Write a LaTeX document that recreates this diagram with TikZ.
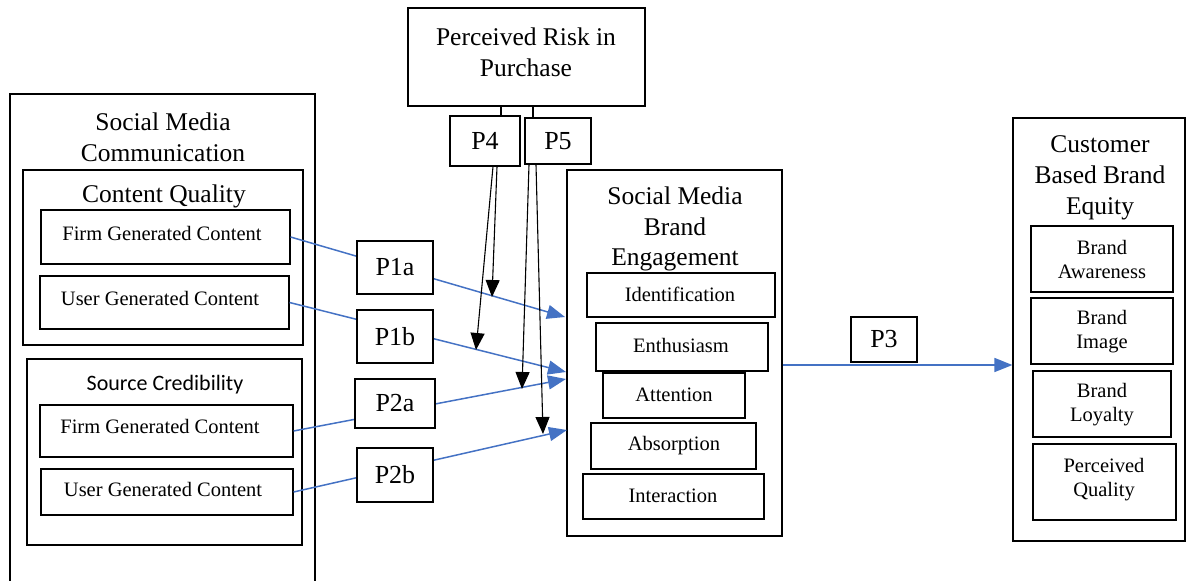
\documentclass[tikz,border=0pt]{standalone}
\usepackage{fontspec}
\setmainfont{Liberation Serif}
\newfontfamily\calibrifont{Carlito}
\usetikzlibrary{arrows.meta,fit}
\definecolor{lineblue}{HTML}{4472C4}
\tikzset{
  frame/.style={draw, line width=1.2pt, inner sep=0pt, fill=white},
  bigtxt/.style={font=\fontsize{25.5}{31}\selectfont, align=center, inner sep=0pt},
  smalltxt/.style={font=\fontsize{20.5}{24}\selectfont, align=center, inner sep=0pt},
  sanstxt/.style={font=\calibrifont\fontsize{22}{26}\selectfont, inner sep=0pt},
  ptxt/.style={font=\fontsize{26}{30}\selectfont, inner sep=0pt},
  bluearrow/.style={draw=lineblue, line width=1.5pt, -{Triangle[length=18pt,width=14pt]}},
  blackarrow/.style={draw=black, line width=1.1pt, -{Triangle[length=17pt,width=14pt]}},
  stub/.style={draw=black, line width=1.6pt},
}
\begin{document}
\begin{tikzpicture}[x=1pt,y=-1pt]
\clip (0,0) rectangle (1187,581);
\useasboundingbox (0,0) rectangle (1187,581);

% ---- Social Media Communication
\node[frame, fit={(10,94) (315,600)}] (smc) {};
\node[bigtxt] (smct) at (163,137) {Social Media\\Communication};
\node[frame, fit={(23,170) (303,345)}] (cq) {};
\node[bigtxt] (cqt) at (164,196) {Content Quality};
\node[frame, fit={(41,210) (290,264)}] (fgc1) {};
\node[smalltxt] (fgc1t) at (162,233) {Firm Generated Content};
\node[frame, fit={(40,276) (289,329)}] (ugc1) {};
\node[smalltxt] (ugc1t) at (160,298) {User Generated Content};
\node[frame, fit={(27,359) (302,545)}] (sc) {};
\node[sanstxt] (sct) at (165,385) {Source Credibility};
\node[frame, fit={(40,405) (293,457)}] (fgc2) {};
\node[smalltxt] (fgc2t) at (160,426) {Firm Generated Content};
\node[frame, fit={(41,469) (293,515)}] (ugc2) {};
\node[smalltxt] (ugc2t) at (163,489) {User Generated Content};

% ---- Perceived risk
\node[frame, fit={(408,8) (645,106)}] (prp) {};
\node[bigtxt] (prpt) at (526,52) {Perceived Risk in\\Purchase};

% ---- Social Media Brand Engagement
\node[frame, fit={(567,170) (782,536)}] (smbe) {};
\node[bigtxt, font=\fontsize{25.5}{30.5}\selectfont] (smbet) at (675,229) {Social Media\\Brand\\Engagement};
\node[frame, fit={(587,273) (775,317)}] (iden) {};
\node[smalltxt] (ident) at (680,294) {Identification};
\node[frame, fit={(596,323) (768,371)}] (enth) {};
\node[smalltxt] (entht) at (681,345) {Enthusiasm};
\node[frame, fit={(603,373) (745,418)}] (atte) {};
\node[smalltxt] (attet) at (674,395) {Attention};
\node[frame, fit={(591,423) (756,469)}] (abso) {};
\node[smalltxt] (absot) at (674,446) {Absorption};
\node[frame, fit={(583,474) (764,519)}] (inte) {};
\node[smalltxt] (intet) at (673,496) {Interaction};

% ---- Customer Based Brand Equity
\node[frame, fit={(1013,118) (1185,541)}] (cbbe) {};
\node[bigtxt] (cbbet) at (1100,178) {Customer\\Based Brand\\Equity};
\node[frame, fit={(1031,226) (1173,292)}] (baw) {};
\node[smalltxt] (bawt) at (1102,259) {Brand\\Awareness};
\node[frame, fit={(1031,298) (1173,364)}] (bim) {};
\node[smalltxt] (bimt) at (1102,332) {Brand\\Image};
\node[frame, fit={(1033,371) (1171,437)}] (blo) {};
\node[smalltxt] (blot) at (1102,405) {Brand\\Loyalty};
\node[frame, fit={(1033,444) (1176,520)}] (bpq) {};
\node[smalltxt] (bpqt) at (1104,480) {Perceived\\Quality};

% ---- arrow ends
\coordinate (t1) at (565,317);
\coordinate (t2) at (566,372);
\coordinate (t3) at (566,379);
\coordinate (t4) at (567,430);
\coordinate (m1) at (492,297);
\coordinate (m2) at (476,350);
\coordinate (m3) at (522,389);
\coordinate (m4) at (543,434);

% ---- blue connectors
\draw[bluearrow] (fgc1.east) -- (t1);
\draw[bluearrow] (ugc1.east) -- (t2);
\draw[bluearrow] (fgc2.east) -- (t3);
\draw[bluearrow] (ugc2.east) -- (t4);
\draw[bluearrow] (smbe.east |- 0,365) -- (cbbe.west |- 0,365);

% ---- P boxes
\node[frame, fit={(357,241) (433,294)}] (p1a) {};
\node[ptxt] (p1at) at (p1a) {P1a};
\node[frame, fit={(357,310) (433,363)}] (p1b) {};
\node[ptxt] (p1bt) at (p1b) {P1b};
\node[frame, fit={(355,379) (435,428)}] (p2a) {};
\node[ptxt] (p2at) at (p2a) {P2a};
\node[frame, fit={(357,448) (433,502)}] (p2b) {};
\node[ptxt] (p2bt) at (p2b) {P2b};
\node[frame, fit={(450,116) (520,166)}] (p4) {};
\node[ptxt] (p4t) at (p4) {P4};
\node[frame, fit={(525,118) (591,164)}] (p5) {};
\node[ptxt] (p5t) at (p5) {P5};
\node[frame, fit={(851,317) (917,362)}] (p3) {};
\node[ptxt] (p3t) at (p3) {P3};

% ---- stubs from perceived risk
\draw[stub] ([xshift=16pt]p4.north) -- ([xshift=16pt]p4.north |- prp.south);
\draw[stub] ([xshift=-25pt]p5.north) -- ([xshift=-25pt]p5.north |- prp.south);

% ---- black moderating arrows
\draw[blackarrow] ([xshift=12pt]p4.south) -- (m1);
\draw[blackarrow] ([xshift=8pt]p4.south) -- (m2);
\draw[blackarrow] ([xshift=-29pt]p5.south) -- (m3);
\draw[blackarrow] ([xshift=-22pt]p5.south) -- (m4);
\end{tikzpicture}
\end{document}
